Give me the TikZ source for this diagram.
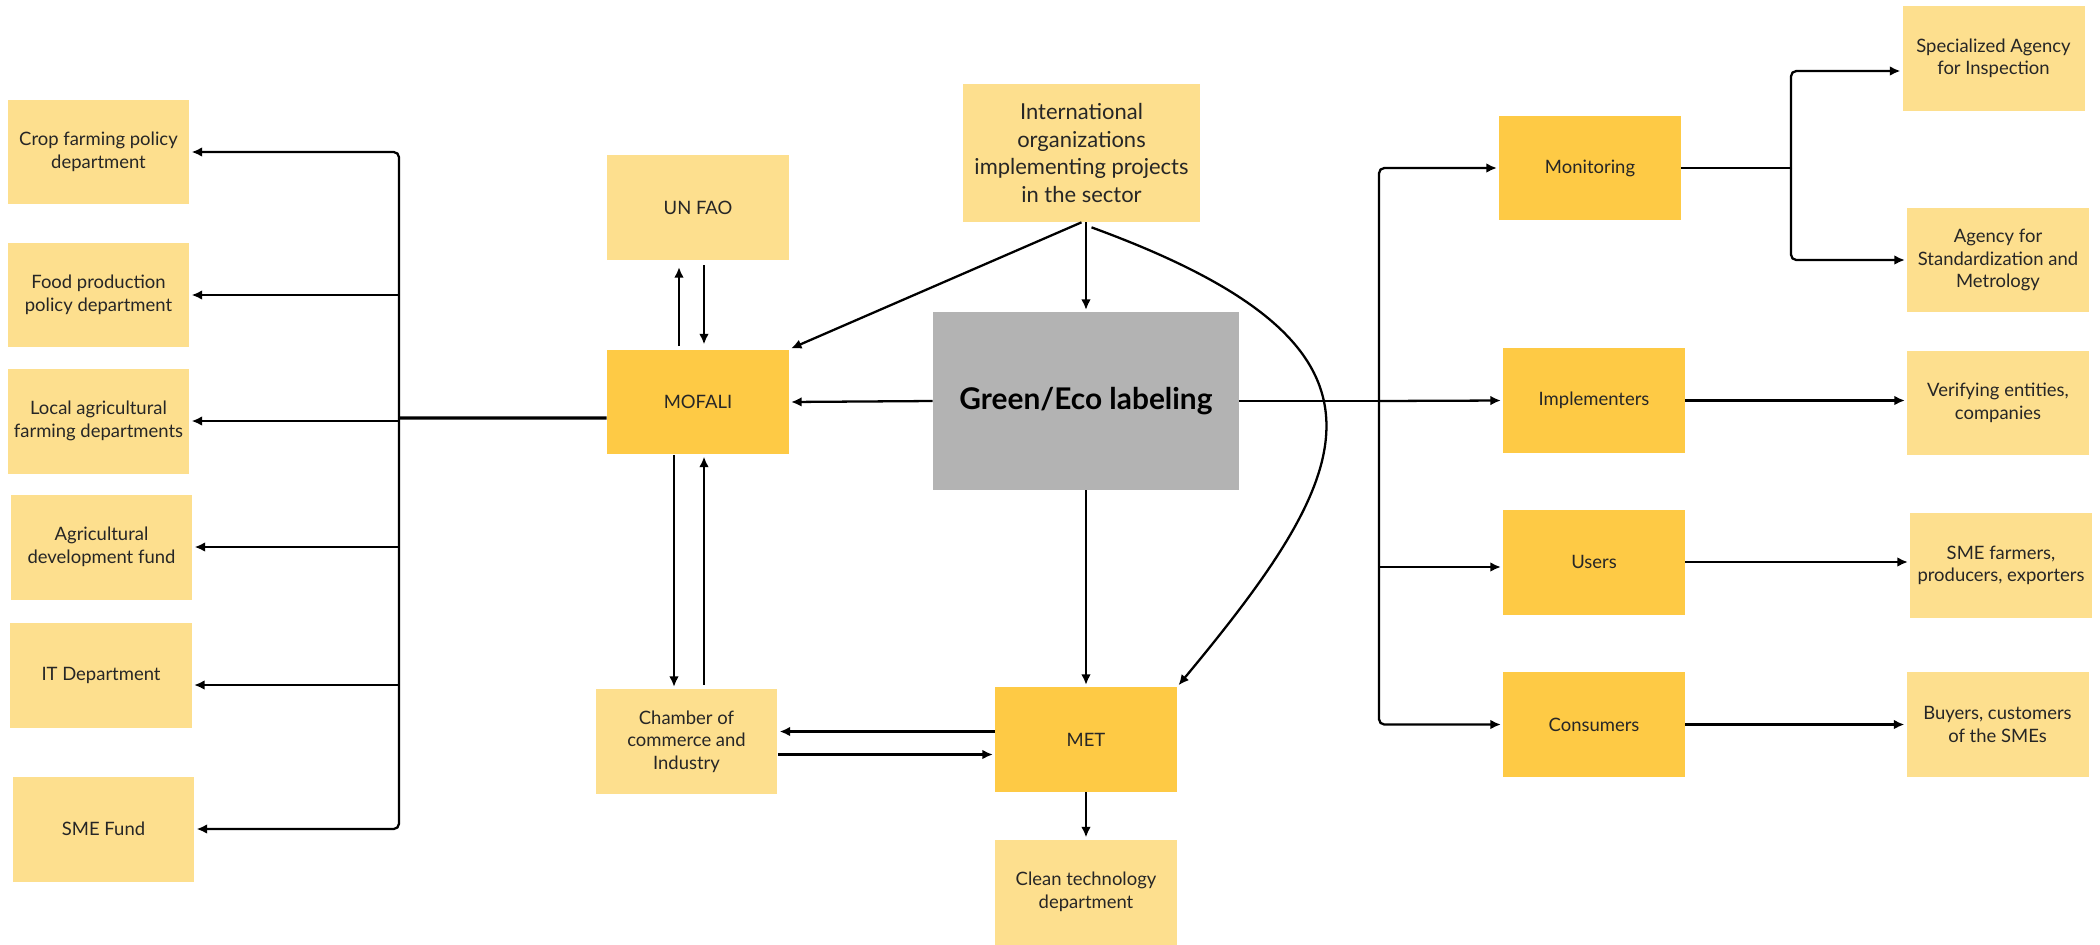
\documentclass[tikz,border=0pt]{standalone}
\usepackage{fontspec}
\setmainfont{Lato}
\usetikzlibrary{arrows.meta}

\definecolor{paleyellow}{RGB}{253,223,142}
\definecolor{deepyellow}{RGB}{254,202,69}
\definecolor{labelgray}{RGB}{179,179,179}

\tikzset{
	box/.style={minimum width=3.64cm, minimum height=2.1cm, inner sep=0pt, align=center, text=black!85, font=\fontsize{10.5}{12.8}\selectfont},
	pale/.style={box, fill=paleyellow},
	deep/.style={box, fill=deepyellow},
	link/.style={line width=1.3pt, rounded corners=3pt},
	flow/.style={link, -{Latex[length=6pt,width=5.5pt]}, shorten >=1pt},
}

\begin{document}
\begin{tikzpicture}[x=0.02cm, y=-0.02cm]
	\useasboundingbox (0,0) rectangle (2100,944);
	
	% left column
	\node[pale] (crop) at (98.5,152) {Crop farming policy\\department};
	\node[pale] (food) at (98.5,295) {Food production\\policy department};
	\node[pale] (local) at (98.5,421) {Local agricultural\\farming departments};
	\node[pale] (agrifund) at (101.5,547) {Agricultural\\development fund};
	\node[pale] (itdep) at (101,675) {IT Department};
	\node[pale] (smefund) at (103.5,829) {SME Fund};
	
	% middle
	\node[pale] (unfao) at (698,207.5) {UN FAO};
	\node[deep] (mofali) at (698,402) {MOFALI};
	\node[pale, minimum width=4.74cm, minimum height=2.76cm, font=\fontsize{12.5}{15.6}\selectfont] (intl) at (1081.5,153) {International\\organizations\\implementing projects\\in the sector};
	\node[box, fill=labelgray, minimum width=6.12cm, minimum height=3.56cm, text=black, font=\fontsize{17}{20}\selectfont\bfseries] (green) at (1086,401) {Green/Eco labeling};
	\node[pale] (chamber) at (686.5,741.5) {Chamber of\\commerce and\\Industry};
	\node[deep] (met) at (1086,739.5) {MET};
	\node[pale] (clean) at (1086,892) {Clean technology\\department};
	
	% right side
	\node[deep] (monitoring) at (1590,168) {Monitoring};
	\node[deep] (implementers) at (1594,400.5) {Implementers};
	\node[deep] (users) at (1594,562) {Users};
	\node[deep] (consumers) at (1594,724.5) {Consumers};
	\node[pale] (specialized) at (1993.5,58.5) {Specialized Agency\\for Inspection};
	\node[pale] (agencystd) at (1998,260) {Agency for\\Standardization and\\Metrology};
	\node[pale] (verifying) at (1998,403) {Verifying entities,\\companies};
	\node[pale] (smefarmers) at (2001,565.5) {SME farmers,\\producers, exporters};
	\node[pale] (buyers) at (1997.5,724.5) {Buyers, customers\\of the SMEs};
	
	\coordinate (lbus) at (399,418);
	\coordinate (rbus) at (1379,401);
	\coordinate (msplit) at (1791,168);
	
	% MOFALI to the departments
	\draw[link, line width=1.8pt] ([yshift=-0.32cm]mofali.west) -- (lbus);
	\draw[flow] (lbus) |- (crop.east);
	\draw[flow] (lbus |- food.east) -- (food.east);
	\draw[flow] (lbus |- local.east) -- (local.east);
	\draw[flow] (lbus |- agrifund.east) -- (agrifund.east);
	\draw[flow] ([yshift=-0.2cm]lbus |- itdep.east) -- ([yshift=-0.2cm]itdep.east);
	\draw[flow] (lbus) |- (smefund.east);
	
	\draw[flow] ([xshift=-0.38cm,yshift=0.06cm]mofali.north) -- ([xshift=-0.38cm,yshift=-0.1cm]unfao.south);
	\draw[flow] ([xshift=0.12cm,yshift=-0.1cm]unfao.south) -- ([xshift=0.12cm,yshift=0.06cm]mofali.north);
	\draw[flow] ([xshift=-0.48cm]mofali.south) -- ([xshift=-0.48cm]mofali.south |- chamber.north);
	\draw[flow] ([xshift=0.12cm,yshift=0.08cm]mofali.south |- chamber.north) -- ([xshift=0.12cm]mofali.south);
	
	\draw[flow] (green.west) -- (mofali.east);
	\draw[flow] (intl.south) -- (mofali.north east);
	\draw[flow] (intl.south -| green.north) -- (green.north);
	\draw[flow] ([xshift=0.2cm,yshift=-0.1cm]intl.south) .. controls (1419,347) and (1359,468) .. (met.north east);
	\draw[flow] (green.south) -- (met.north);
	\draw[flow] ([yshift=0.16cm]met.west) -- ([yshift=0.16cm]met.west -| chamber.east);
	\draw[flow] ([yshift=-0.3cm]met.west -| chamber.east) -- ([yshift=-0.3cm]met.west);
	\draw[flow] (met.south) -- (clean.north);
	
	% labeling to the groups
	\draw[link] (green.east) -- (rbus);
	\draw[flow] (rbus) |- (monitoring.west);
	\draw[flow] (rbus) -- (implementers.west);
	\draw[flow] ([yshift=-0.1cm]rbus |- users.west) -- ([yshift=-0.1cm]users.west);
	\draw[flow] (rbus) |- (consumers.west);
	
	\draw[link] (monitoring.east) -- (msplit);
	\draw[flow] (msplit) |- ([yshift=-0.25cm]specialized.west);
	\draw[flow] (msplit) |- (agencystd.west);
	\draw[flow] (implementers.east) -- (implementers.east -| verifying.west);
	\draw[flow] (users.east) -- (users.east -| smefarmers.west);
	\draw[flow] (consumers.east) -- (consumers.east -| buyers.west);
\end{tikzpicture}
\end{document}
